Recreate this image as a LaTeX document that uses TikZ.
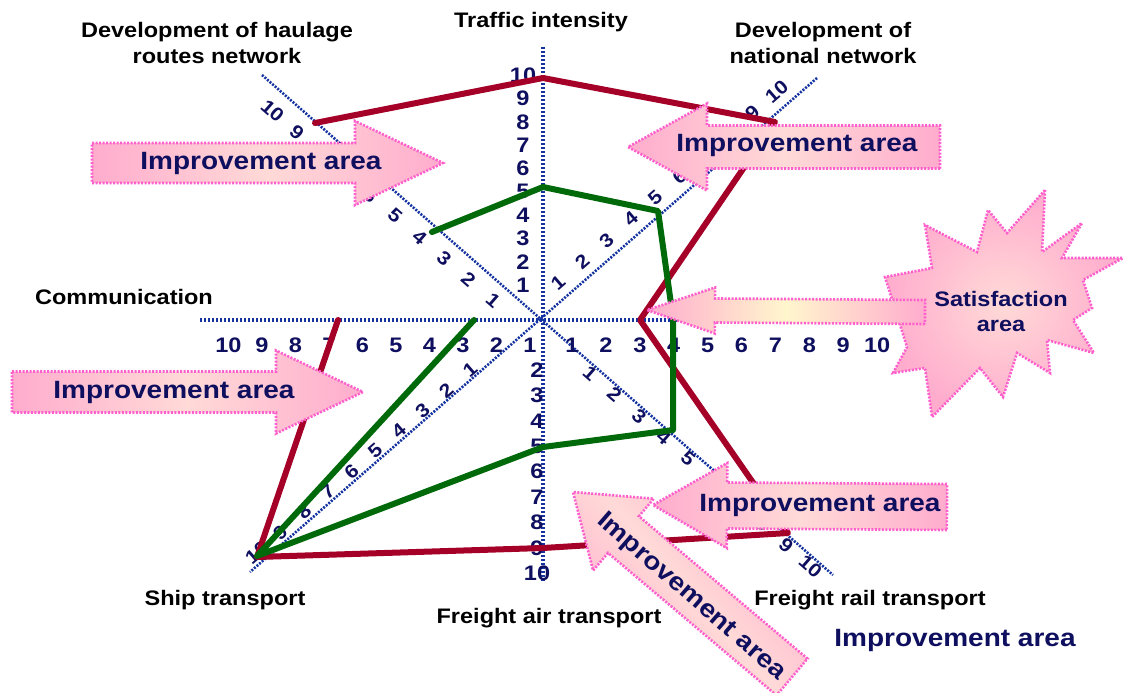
\documentclass[tikz,border=0pt]{standalone}
\usepackage{fontspec}
\setmainfont{Liberation Sans}[FakeStretch=1.12]
\usetikzlibrary{calc}
\definecolor{axisblue}{RGB}{20,50,160}
\definecolor{navy}{RGB}{15,15,95}
\definecolor{redline}{RGB}{165,0,40}
\definecolor{greenline}{RGB}{0,105,10}
\definecolor{apink}{RGB}{255,172,205}
\definecolor{alight}{RGB}{255,218,215}
\definecolor{ayellow}{RGB}{255,246,205}
\definecolor{aborder}{RGB}{255,95,205}
\newcommand\ImpArrow[6]{%
  \path ($(#2)!#5!(#1)$) coordinate (hb);
  \draw[arrowbox,#6] ($(#1)!#3!90:(#2)$) -- ($(hb)!#3!90:(#2)$) -- ($(hb)!#4!90:(#2)$)
     -- (#2) -- ($(hb)!#4!-90:(#2)$) -- ($(hb)!#3!-90:(#2)$) -- ($(#1)!#3!-90:(#2)$) -- cycle;
}
\begin{document}
\begin{tikzpicture}[x=1pt,y=-1pt,
  axisline/.style={axisblue, line width=3.2pt, dash pattern=on 2.4pt off 1.6pt},
  daxisline/.style={axisblue, line width=2.6pt, dash pattern=on 2pt off 1.4pt},
  num/.style={text=navy, font=\bfseries\fontsize{21}{21}\selectfont, inner sep=0pt},
  dnum/.style={text=navy, font=\bfseries\fontsize{19}{19}\selectfont, inner sep=0pt},
  title/.style={font=\bfseries\fontsize{21}{26}\selectfont, align=center, inner sep=0pt},
  imptext/.style={text=navy, font=\bfseries\fontsize{25}{25}\selectfont, inner sep=0pt},
  arrowbox/.style={draw=aborder, line width=2.6pt, dash pattern=on 2pt off 1.5pt, line join=miter,
     left color=apink, right color=apink, middle color=alight},
  poly/.style={line width=6pt, line join=round, line cap=round},
]
\useasboundingbox (0,0) rectangle (1124,693);
% axes
\coordinate (O) at (543,320);
\coordinate (hL) at (200,320);
\coordinate (hR) at (905,320);
\coordinate (vT) at (543,47);
\coordinate (vB) at (543,582);
\coordinate (d1a) at (262,75);
\coordinate (d1b) at (833,575);
\coordinate (d2a) at (817,78);
\coordinate (d2b) at (250,572);
\draw[axisline] (hL) -- (hR);
\draw[axisline] (vT) -- (vB);
\draw[daxisline] (d1a) -- (d1b);
\draw[daxisline] (d2a) -- (d2b);
% numbers
\foreach \k in {1,...,10} {
  \node[num] (hr\k) at ({572+33.9*(\k-1)},345) {\k};
  \node[num] (hl\k) at ({530-33.5*(\k-1)},345) {\k};
  \node[num] (vt\k) at (523,{285-23.3*(\k-1)}) {\k};
  \node[dnum, rotate=-41] (ul\k) at ({493-24.5*(\k-1)},{300-21*(\k-1)}) {\k};
  \node[dnum, rotate=41] (ur\k) at ({558+24.3*(\k-1)},{283-21.3*(\k-1)}) {\k};
  \node[dnum, rotate=41] (ll\k) at ({470-23.7*(\k-1)},{370+20.3*(\k-1)}) {\k};
  \node[dnum, rotate=-41] (lr\k) at ({590+24.5*(\k-1)},{373+21.5*(\k-1)}) {\k};
}
\foreach \k in {2,...,10} {
  \node[num] (vb\k) at (537,{370+25.4*(\k-2)}) {\k};
}
% titles
\node[title] (tTraffic) at (541,22) {Traffic intensity};
\node[title] (tHaul) at (217,43) {Development of haulage\\routes network};
\node[title] (tNat) at (823,43) {Development of\\national network};
\node[title] (tComm) at (124,297) {Communication};
\node[title] (tShip) at (225,600) {Ship transport};
\node[title] (tAir) at (549,618) {Freight air transport};
\node[title] (tRail) at (870,600) {Freight rail transport};
\node[imptext] (tImp) at (955,640) {Improvement area};
% polylines
\coordinate (rH) at (315,123);
\coordinate (rT) at (543,78);
\coordinate (rN) at (775,122);
\coordinate (rR) at (640,320);
\coordinate (rF) at (788,533);
\coordinate (rA) at (543,548);
\coordinate (rS) at (257,557);
\coordinate (rC) at (338,320);
\draw[poly, redline] (rH) -- (rT) -- (rN) -- (rR) -- (rF) -- (rA) -- (rS) -- (rC);
\coordinate (gH) at (432,232);
\coordinate (gT) at (543,187);
\coordinate (gN) at (658,211);
\coordinate (gR) at (673,318);
\coordinate (gF) at (673,430);
\coordinate (gA) at (543,447);
\coordinate (gS) at (257,556);
\coordinate (gC) at (474,320);
\draw[poly, greenline] (gH) -- (gT) -- (gN) -- (gR) -- (gF) -- (gA) -- (gS) -- (gC);
% star
\draw[draw=aborder, line width=2.6pt, dash pattern=on 2pt off 1.5pt, inner color=alight, outer color=apink]
  (1045,190) -- (1042,252) -- (1082,223) -- (1062,258) -- (1123,258) -- (1083,280) -- (1092,308)
  -- (1073,320) -- (1094,353) -- (1047,340) -- (1050,373) -- (1017,353) -- (1003,397) -- (980,368)
  -- (932,417) -- (925,368) -- (893,373) -- (907,347) -- (885,277) -- (932,268) -- (925,225)
  -- (977,252) -- (988,210) -- (1007,233) -- cycle;
% arrows
\coordinate (a1t) at (92,163);   \coordinate (a1h) at (443,163);
\coordinate (a2t) at (940,147);  \coordinate (a2h) at (628,147);
\coordinate (a3t) at (12,392);   \coordinate (a3h) at (363,392);
\coordinate (a4t) at (925,312);  \coordinate (a4h) at (647,310);
\coordinate (a5t) at (947,507);  \coordinate (a5h) at (653,505);
\coordinate (a6t) at (792,677);  \coordinate (a6h) at (573,492);
\ImpArrow{a1t}{a1h}{20pt}{42pt}{88pt}{}
\ImpArrow{a2t}{a2h}{21.5pt}{43.5pt}{79pt}{}
\ImpArrow{a3t}{a3h}{20.5pt}{41.5pt}{87pt}{}
\ImpArrow{a4t}{a4h}{12pt}{23pt}{68pt}{middle color=ayellow}
\ImpArrow{a5t}{a5h}{23pt}{42.5pt}{74pt}{}
\ImpArrow{a6t}{a6h}{24pt}{47pt}{66pt}{shading angle=131}
\node[imptext] (i1) at (261,163) {Improvement area};
\node[imptext] (i2) at (797,145) {Improvement area};
\node[imptext] (i3) at (174,392) {Improvement area};
\node[imptext] (i5) at (820,505) {Improvement area};
\node[imptext, rotate=-41] (i6) at (691,597) {Improvement area};
\node[text=navy, font=\bfseries\fontsize{21}{25}\selectfont, align=center, inner sep=0pt] (sat) at (1001,311) {Satisfaction\\area};
\end{tikzpicture}
\end{document}
